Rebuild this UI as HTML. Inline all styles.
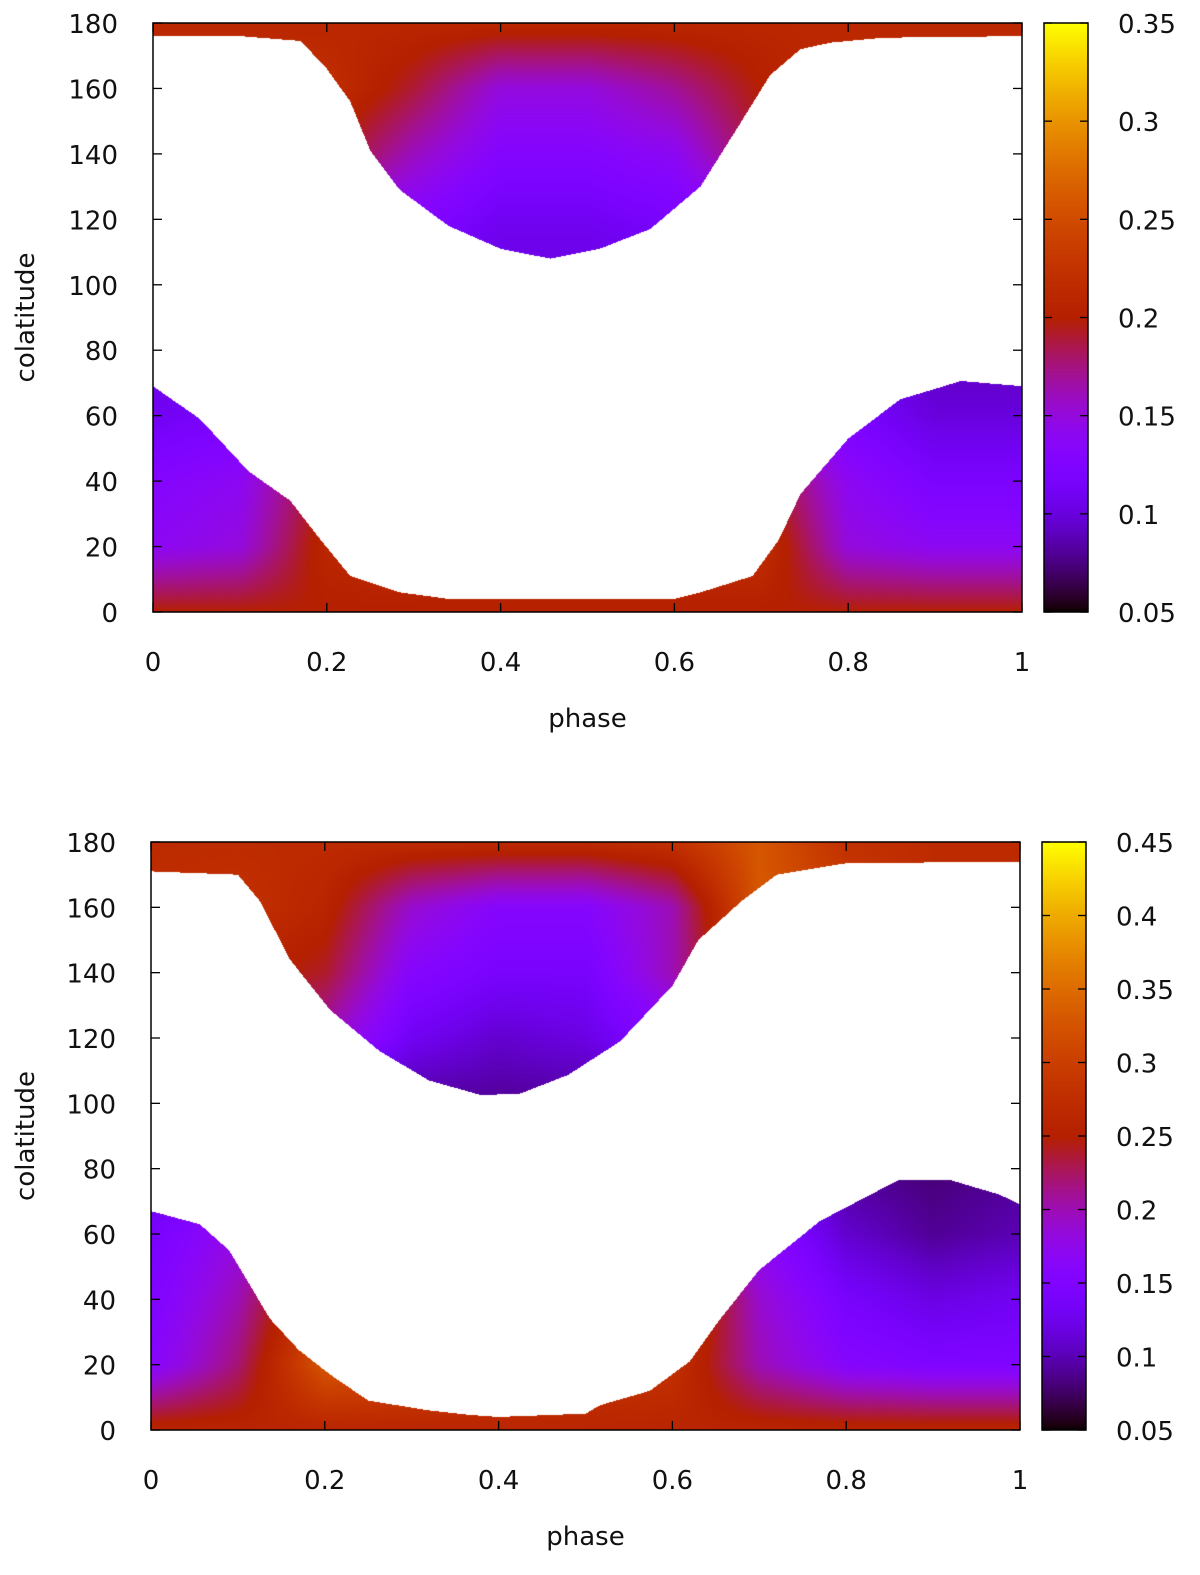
<!DOCTYPE html>
<html><head><meta charset="utf-8">
<style>
html,body{margin:0;padding:0;background:#fff;}
body{width:1200px;height:1575px;position:relative;overflow:hidden;font-family:"DejaVu Sans","Liberation Sans",sans-serif;}
svg{position:absolute;left:0;top:0;}
canvas{position:absolute;}
</style></head>
<body>
<canvas id="c1"></canvas>
<canvas id="cb1"></canvas>
<canvas id="c2"></canvas>
<canvas id="cb2"></canvas>
<svg id="ov" width="1200" height="1575"></svg>
<script>
// ---- data ----
const phaseGrid = [0,0.1,0.2,0.3,0.4,0.5,0.6,0.7,0.8,0.9,1];
const colatGrid = [0,20,40,60,80,100,120,140,160,180];
const xTicks = [0,0.2,0.4,0.6,0.8,1];
const xTickLabels = ["0","0.2","0.4","0.6","0.8","1"];
const yTicks = [0,20,40,60,80,100,120,140,160,180];
const cb1Ticks = [0.05,0.1,0.15,0.2,0.25,0.3,0.35];
const cb1Labels = ["0.05","0.1","0.15","0.2","0.25","0.3","0.35"];
const cb2Ticks = [0.05,0.1,0.15,0.2,0.25,0.3,0.35,0.4,0.45];
const cb2Labels = ["0.05","0.1","0.15","0.2","0.25","0.3","0.35","0.4","0.45"];

// top plot boundaries
const topUpperPh = [0,0.1,0.17,0.2,0.227,0.25,0.284,0.34,0.4,0.457,0.514,0.572,0.63,0.675,0.71,0.745,0.78,0.84,1];
const topUpperCo = [176,176,174.5,166,156,141,129,118,111,108,111,117,130,149,164,172,174,175.5,176];
const topLowerPh = [0,0.054,0.11,0.158,0.19,0.227,0.284,0.34,0.6,0.63,0.69,0.72,0.745,0.8,0.86,0.93,1];
const topLowerCo = [69,59,43,34,23,11,6,4,4,6,11,22,36,53,65,70.6,69];
const topValues = [
 [0.2,0.2,0.2,0.2,0.2,0.2,0.2,0.2,0.2,0.2,0.2],
 [0.14,0.15,0.21,0.22,0.22,0.22,0.22,0.22,0.15,0.14,0.14],
 [0.13,0.14,0.2,0.2,0.2,0.2,0.2,0.2,0.14,0.12,0.12],
 [0.11,0.12,0.15,0.15,0.15,0.15,0.15,0.15,0.12,0.10,0.10],
 [0.1,0.1,0.1,0.1,0.1,0.1,0.1,0.1,0.1,0.09,0.09],
 [0.1,0.1,0.1,0.1,0.1,0.1,0.1,0.1,0.1,0.1,0.1],
 [0.15,0.15,0.15,0.13,0.11,0.11,0.12,0.14,0.15,0.15,0.15],
 [0.2,0.2,0.2,0.16,0.13,0.13,0.14,0.19,0.2,0.2,0.2],
 [0.22,0.22,0.22,0.19,0.15,0.15,0.17,0.2,0.22,0.22,0.22],
 [0.21,0.21,0.21,0.21,0.21,0.21,0.21,0.21,0.21,0.21,0.21]
];

// bottom plot boundaries
const botUpperPh = [0,0.1,0.125,0.16,0.206,0.263,0.32,0.38,0.425,0.48,0.54,0.6,0.63,0.68,0.72,0.8,1];
const botUpperCo = [171,170,162,144,128.6,116,107,102.5,103,108.7,119,136,150,162,170,173.5,174];
const botLowerPh = [0,0.056,0.09,0.137,0.17,0.206,0.25,0.32,0.367,0.4,0.5,0.517,0.574,0.62,0.655,0.7,0.77,0.86,0.92,0.977,1];
const botLowerCo = [67,63,55,34,24.5,17,9,6,4.6,4,5,7.6,12,21,34,49,64,76.5,76.5,72,69];
const botValues = [
 [0.26,0.26,0.26,0.26,0.26,0.26,0.26,0.26,0.26,0.26,0.26],
 [0.16,0.22,0.33,0.32,0.3,0.29,0.28,0.2,0.16,0.15,0.15],
 [0.15,0.2,0.3,0.3,0.3,0.3,0.3,0.19,0.14,0.12,0.13],
 [0.14,0.18,0.25,0.25,0.25,0.25,0.25,0.17,0.11,0.09,0.1],
 [0.12,0.14,0.2,0.2,0.2,0.2,0.2,0.13,0.09,0.08,0.09],
 [0.09,0.09,0.09,0.09,0.09,0.09,0.09,0.09,0.09,0.09,0.09],
 [0.2,0.2,0.2,0.13,0.11,0.12,0.16,0.22,0.2,0.2,0.2],
 [0.26,0.26,0.24,0.16,0.14,0.14,0.2,0.3,0.27,0.27,0.27],
 [0.27,0.28,0.26,0.19,0.16,0.16,0.2,0.33,0.3,0.27,0.27],
 [0.27,0.27,0.27,0.27,0.27,0.27,0.28,0.33,0.28,0.27,0.27]
];

// ---- helpers ----
function pal(t){t=Math.max(0,Math.min(1,t));
 const r=Math.sqrt(t),g=t*t*t,b=Math.max(0,Math.sin(2*Math.PI*t));
 return [Math.round(r*255),Math.round(g*255),Math.round(b*255)];}
function interp1(xs,ys,x){if(x<=xs[0])return ys[0];for(let i=1;i<xs.length;i++){if(x<=xs[i]){const f=(x-xs[i-1])/(xs[i]-xs[i-1]);return ys[i-1]+f*(ys[i]-ys[i-1]);}}return ys[ys.length-1];}
function bilin(grid,p,c){
 let i=Math.min(phaseGrid.length-2,Math.floor(p/0.1)); let fi=(p-phaseGrid[i])/0.1;
 let j=Math.min(colatGrid.length-2,Math.floor(c/20)); let fj=(c-colatGrid[j])/20;
 const a=grid[j][i],b=grid[j][i+1],d=grid[j+1][i],e=grid[j+1][i+1];
 return (a*(1-fi)+b*fi)*(1-fj)+(d*(1-fi)+e*fi)*fj;}
const NS="http://www.w3.org/2000/svg";
const ov=document.getElementById('ov');
function el(tag,attrs,text){const e=document.createElementNS(NS,tag);for(const k in attrs)e.setAttribute(k,attrs[k]);if(text!==undefined)e.textContent=text;ov.appendChild(e);return e;}

function drawPanel(P){
 const {cid,L,R,T,B,values,uPh,uCo,lPh,lCo,cbid,cbL,cbR,vmin,vmax,cbTicks,cbLabels,prefix}=P;
 const W=R-L,H=B-T;
 const cv=document.getElementById(cid);cv.width=W;cv.height=H;cv.style.left=L+'px';cv.style.top=T+'px';
 const ctx=cv.getContext('2d');const img=ctx.createImageData(W,H);
 for(let x=0;x<W;x++){const p=(x+0.5)/W;const ub=interp1(uPh,uCo,p),lb=interp1(lPh,lCo,p);
  for(let y=0;y<H;y++){const c=180*(1-(y+0.5)/H);const k=(y*W+x)*4;
   if(c>=ub||c<=lb){const v=bilin(values,p,c);const col=pal((v-vmin)/(vmax-vmin));
    img.data[k]=col[0];img.data[k+1]=col[1];img.data[k+2]=col[2];img.data[k+3]=255;}
   else{img.data[k]=255;img.data[k+1]=255;img.data[k+2]=255;img.data[k+3]=255;}}}
 ctx.putImageData(img,0,0);
 const cb=document.getElementById(cbid);const cw=cbR-cbL;cb.width=cw;cb.height=H;cb.style.left=cbL+'px';cb.style.top=T+'px';
 const c2=cb.getContext('2d');for(let y=0;y<H;y++){const col=pal(1-y/H);c2.fillStyle=`rgb(${col[0]},${col[1]},${col[2]})`;c2.fillRect(0,y,cw,1);}
 const xs=v=>L+v*W, ys=v=>B-v/180*H;
 let fr=el('rect',{x:L,y:T,width:W,height:H,fill:'none',stroke:'#000','stroke-width':1.5});
 
 xTicks.forEach((v,i)=>{const X=xs(v);
  el('line',{x1:X,x2:X,y1:B,y2:B-9,stroke:'#000','stroke-width':1.3});
  el('line',{x1:X,x2:X,y1:T,y2:T+9,stroke:'#000','stroke-width':1.3});
  const t=el('text',{x:X,y:B+59,'text-anchor':'middle','font-size':26,fill:'#111'},xTickLabels[i]);
  });
 yTicks.forEach(v=>{const Y=ys(v);
  el('line',{x1:L,x2:L+9,y1:Y,y2:Y,stroke:'#000','stroke-width':1.3});
  el('line',{x1:R,x2:R-9,y1:Y,y2:Y,stroke:'#000','stroke-width':1.3});
  const t=el('text',{x:L-35,y:Y+10,'text-anchor':'end','font-size':26,fill:'#111'},String(v));
  });
 let cf=el('rect',{x:cbL,y:T,width:cw,height:H,fill:'none',stroke:'#000','stroke-width':1.5});
 
 cbTicks.forEach((v,i)=>{const Y=B-(v-vmin)/(vmax-vmin)*H;
  el('line',{x1:cbL,x2:cbL+8,y1:Y,y2:Y,stroke:'#000','stroke-width':1.3});
  el('line',{x1:cbR,x2:cbR-8,y1:Y,y2:Y,stroke:'#000','stroke-width':1.3});
  const t=el('text',{x:cbR+30,y:Y+10,'font-size':26,fill:'#111'},cbLabels[i]);
  });
 const xl=el('text',{x:(L+R)/2,y:B+115,'text-anchor':'middle','font-size':26,fill:'#111'},'phase');
 
 const cy=(T+B)/2;
 const yl=el('text',{x:34,y:cy,'text-anchor':'middle','font-size':26,fill:'#111',transform:`rotate(-90 34 ${cy})`},'colatitude');
 
}
drawPanel({cid:'c1',L:153,R:1022,T:23,B:612,values:topValues,uPh:topUpperPh,uCo:topUpperCo,lPh:topLowerPh,lCo:topLowerCo,cbid:'cb1',cbL:1044,cbR:1088,vmin:0.05,vmax:0.35,cbTicks:cb1Ticks,cbLabels:cb1Labels,prefix:'top'});
drawPanel({cid:'c2',L:151,R:1020,T:842,B:1430,values:botValues,uPh:botUpperPh,uCo:botUpperCo,lPh:botLowerPh,lCo:botLowerCo,cbid:'cb2',cbL:1042,cbR:1086,vmin:0.05,vmax:0.45,cbTicks:cb2Ticks,cbLabels:cb2Labels,prefix:'bottom'});
</script>
</body></html>
